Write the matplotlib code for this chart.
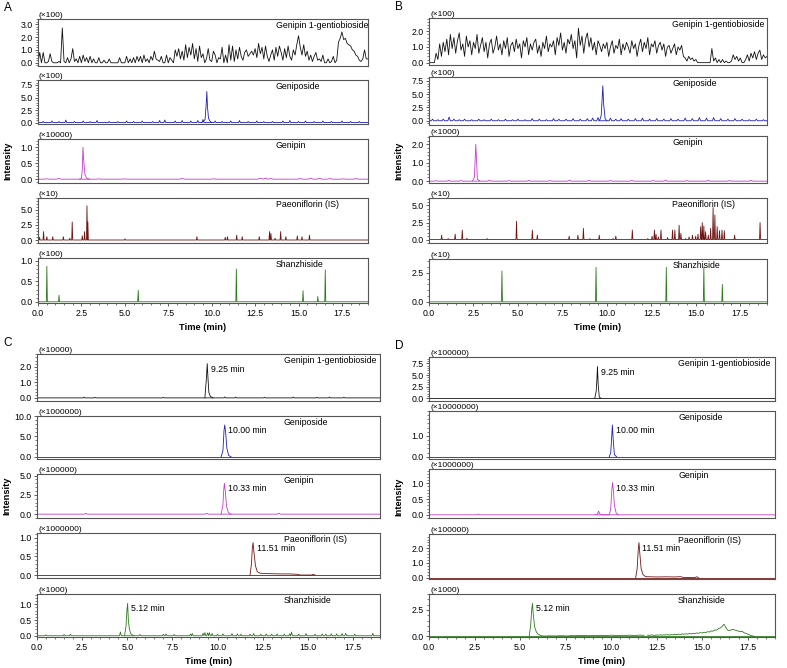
import matplotlib
matplotlib.use('Agg')
import matplotlib.pyplot as plt
import numpy as np
from matplotlib.ticker import AutoMinorLocator, FormatStrFormatter

XMAX = 19.0

# ---------------- data ----------------
# panel A (blank plasma)
a1_step = 0.1
a1_vals = [0.0, 0.8, 0.0, 0.8, 0.0, 0.0, 0.1, 0.7, 0.1, 0.0,
           0.0, 0.0, 0.1, 0.0, 2.7, 0.1, 0.0, 0.4, 0.0, 0.3,
           1.1, 0.1, 0.3, 0.0, 0.5, 0.0, 0.6, 0.1, 0.4, 0.0,
           0.5, 0.0, 0.3, 0.0, 0.0, 0.4, 0.0, 0.0, 0.2, 0.0,
           0.0, 0.3, 0.0, 0.0, 0.0, 0.0, 0.0, 0.4, 0.0, 0.0,
           0.0, 0.5, 0.0, 0.3, 0.0, 0.4, 0.0, 0.5, 0.1, 0.5,
           0.0, 0.6, 0.1, 0.3, 0.0, 0.5, 0.2, 0.9, 0.3, 0.2,
           0.1, 0.5, 0.0, 0.0, 0.6, 0.0, 0.4, 0.2, 0.0, 1.0,
           0.5, 1.1, 0.3, 0.9, 0.2, 1.4, 0.4, 1.2, 0.6, 1.5,
           0.3, 1.1, 0.1, 1.3, 0.4, 0.7, 0.0, 0.3, 1.1, 0.2,
           0.1, 0.9, 0.6, 0.0, 0.4, 0.3, 1.2, 0.0, 0.6, 0.0,
           1.4, 0.2, 1.3, 0.1, 1.0, 0.3, 1.2, 0.5, 0.2, 0.8,
           1.0, 0.5, 0.7, 0.9, 0.6, 1.1, 0.4, 1.5, 0.7, 1.2,
           0.3, 1.3, 0.5, 0.1, 0.6, 1.0, 0.2, 1.2, 0.5, 1.3,
           0.8, 0.2, 1.1, 0.4, 1.3, 0.5, 0.2, 1.0, 0.6, 1.4,
           2.1, 1.2, 0.6, 1.4, 0.5, 0.9, 0.2, 0.6, 0.1, 0.5,
           0.8, 0.2, 0.3, 0.1, 0.6, 0.0, 0.0, 0.3, 0.0, 0.1,
           0.5, 0.0, 0.2, 1.6, 1.9, 2.4, 1.8, 1.9, 1.5, 1.4,
           1.3, 1.0, 0.9, 0.6, 0.5, 0.2, 0.1, 0.3, 1.0, 0.3,
           0.3]

a2_noise_t = [0.3, 0.8, 1.2, 1.6, 2.1, 2.6, 3.0, 3.4, 4.1, 4.6, 5.1, 5.5, 6.0,
              6.6, 7.0, 7.3, 7.9, 8.3, 8.8, 9.2, 9.5, 10.2, 10.6, 11.1, 11.6,
              12.1, 12.6, 13.0, 13.5, 14.1, 14.5, 15.0, 15.4, 15.9, 16.4, 16.9,
              17.5, 18.0, 18.5]
a2_noise_h = [0.2, 0.3, 0.2, 0.5, 0.2, 0.3, 0.2, 0.4, 0.2, 0.2, 0.3, 0.2, 0.3,
              0.2, 0.4, 0.5, 0.3, 0.4, 0.3, 0.4, 0.6, 0.3, 0.2, 0.3, 0.4,
              0.2, 0.3, 0.2, 0.2, 0.3, 0.4, 0.2, 0.3, 0.2, 0.3, 0.2,
              0.3, 0.2, 0.2]
a2_peak_t = [9.4, 9.55, 9.62, 9.68, 9.72, 9.76, 9.82, 9.9, 10.0]
a2_peak_y = [0.0, 0.3, 0.6, 3.5, 6.2, 3.0, 0.8, 0.3, 0.0]

a3_noise_t = [0.5, 1.2, 3.5, 5.0, 8.3, 10.1, 12.8, 13.1, 13.4, 15.1, 15.7,
              16.2, 16.8, 17.6, 18.3]
a3_noise_h = [0.01, 0.02, 0.01, 0.01, 0.02, 0.01, 0.03, 0.03, 0.02, 0.02,
              0.03, 0.03, 0.02, 0.01, 0.02]
a3_peak_t = [2.4, 2.5, 2.55, 2.59, 2.63, 2.7, 2.8, 2.95]
a3_peak_y = [0.0, 0.02, 0.3, 1.0, 0.6, 0.15, 0.03, 0.0]

a4_t = [0.09, 0.32, 0.51, 0.85, 1.46, 1.83, 1.97, 2.55, 2.68, 2.82, 2.87,
        5.01, 9.15, 10.78, 10.91, 11.44, 11.76, 12.74, 13.33, 13.41, 13.65,
        13.97, 14.27, 14.93, 15.2, 15.63]
a4_h = [0.45, 1.4, 0.55, 0.55, 0.55, 0.3, 3.0, 0.7, 1.4, 5.7, 3.0,
        0.2, 0.55, 0.45, 0.55, 0.8, 0.55, 0.55, 1.4, 1.1, 0.3,
        1.4, 0.55, 0.7, 0.55, 0.8]

a5_t = [0.51, 1.21, 5.77, 11.42, 15.26, 16.11, 16.54]
a5_h = [0.87, 0.16, 0.28, 0.8, 0.27, 0.13, 0.78]

# panel B
b1_step = 0.1
b1_vals = [0.0, 0.0, 0.0, 0.0, 0.6, 0.2, 1.2, 0.4, 1.3, 0.7,
           1.5, 0.5, 1.8, 0.9, 1.6, 0.6, 1.4, 1.9, 0.8, 1.2,
           0.4, 1.7, 1.0, 1.4, 0.5, 1.3, 0.9, 1.8, 0.6, 1.1,
           1.6, 0.7, 1.3, 0.3, 1.2, 1.5, 0.6, 1.0, 1.7, 0.8,
           1.2, 0.5, 1.4, 0.9, 1.6, 0.4, 1.1, 1.3, 0.7, 1.5,
           0.9, 1.2, 0.3, 1.4, 1.0, 1.6, 0.5, 1.2, 0.8, 1.3,
           1.5, 0.6, 1.1, 0.4, 1.3, 0.9, 1.7, 0.7, 1.2, 1.0,
           1.4, 0.5, 1.6, 1.1, 1.9, 0.8, 1.3, 0.6, 1.5, 1.2,
           1.8, 0.9, 1.4, 0.3, 2.2, 1.1, 1.7, 0.6, 1.5, 1.9,
           1.0, 1.6, 0.8, 1.3, 0.5, 1.4, 1.1, 0.7, 1.2, 0.9,
           1.3, 0.4, 1.0, 1.4, 0.6, 1.1, 0.9, 1.5, 0.5, 1.2,
           0.8, 1.3, 1.0, 0.6, 1.4, 0.9, 1.2, 0.4, 1.1, 1.5,
           0.7, 1.3, 0.9, 1.6, 0.5, 1.2, 1.0, 1.4, 0.6, 1.1,
           1.3, 0.8, 1.2, 0.4, 1.0, 1.1, 0.6, 0.9, 1.2, 0.5,
           1.0, 0.8, 1.1, 0.4, 0.3, 0.1, 0.4, 0.2, 0.3, 0.1,
           0.2, 0.0, 0.0, 0.0, 0.0, 0.0, 0.0, 0.0, 0.0, 0.9,
           0.1, 0.3, 0.0, 0.2, 0.0, 0.2, 0.0, 0.1, 0.0, 0.0,
           0.1, 0.5, 0.2, 0.4, 0.1, 0.3, 0.0, 0.0, 0.2, 0.5,
           0.1, 0.6, 0.3, 0.7, 0.2, 0.6, 0.8, 0.2, 0.5, 0.3,
           0.4]

b2_noise_t = [0.2, 0.5, 0.8, 1.13, 1.4, 1.7, 2.0, 2.4, 2.8, 3.1, 3.5, 3.9,
              4.3, 4.7, 5.0, 5.4, 5.8, 6.2, 6.6, 7.0, 7.3, 7.7, 8.1, 8.5,
              8.9, 9.2, 9.5, 10.2, 10.5, 10.8, 11.2, 11.6, 12.0, 12.4,
              12.8, 13.2, 13.6, 14.0, 14.4, 14.8, 15.2, 15.6, 16.0, 16.4,
              16.8, 17.2, 17.6, 18.0, 18.4, 18.8]
b2_noise_h = [0.3, 0.2, 0.3, 0.7, 0.3, 0.2, 0.3, 0.2, 0.3, 0.2, 0.3, 0.2,
              0.3, 0.2, 0.3, 0.2, 0.4, 0.3, 0.2, 0.4, 0.3, 0.3, 0.4, 0.3,
              0.4, 0.5, 0.6, 0.5, 0.3, 0.4, 0.3, 0.4, 0.5, 0.3,
              0.4, 0.3, 0.4, 0.3, 0.5, 0.4, 0.6, 0.5, 0.6, 0.4,
              0.3, 0.4, 0.3, 0.2, 0.3, 0.2]
b2_peak_t = [9.55, 9.62, 9.68, 9.73, 9.77, 9.82, 9.9, 10.0]
b2_peak_y = [0.0, 0.3, 1.0, 4.0, 6.6, 3.0, 0.4, 0.0]

b3_noise_t = [0.4, 1.1, 1.8, 3.4, 4.5, 5.6, 6.8, 7.9, 9.0, 10.2, 11.4, 12.6,
              13.3, 14.5, 15.7, 16.9, 18.1]
b3_noise_h = [0.03, 0.04, 0.03, 0.05, 0.03, 0.04, 0.03, 0.05, 0.04, 0.03,
              0.04, 0.03, 0.05, 0.03, 0.04, 0.03, 0.04]
b3_peak_t = [2.45, 2.55, 2.6, 2.63, 2.67, 2.72, 2.85]
b3_peak_y = [0.02, 0.2, 1.3, 2.0, 1.2, 0.1, 0.02]

b4_t = [0.02, 0.71, 1.08, 1.47, 1.87, 2.13, 3.27, 4.92, 5.81, 6.09, 7.88,
        8.37, 8.68, 9.04, 9.57, 10.35, 10.5, 11.43, 12.3, 12.54, 12.67,
        12.76, 12.89, 13.04, 13.41, 13.69, 13.82, 14.06, 14.16, 14.43,
        14.62, 14.81, 14.99, 15.12, 15.27, 15.36, 15.45, 15.55, 15.7,
        15.83, 15.97, 16.07, 16.2, 16.33, 16.47, 16.6, 17.18, 18.61]
b4_h = [0.15, 0.65, 0.15, 0.8, 1.4, 0.2, 0.15, 2.7, 1.4, 0.65, 0.5,
        0.65, 1.65, 0.15, 0.65, 0.15, 0.5, 1.4, 0.15, 0.5, 1.4,
        0.8, 0.4, 1.4, 0.3, 1.4, 1.4, 2.1, 0.9, 0.15,
        0.4, 0.65, 0.5, 0.8, 1.9, 2.5, 2.0, 1.15, 0.65,
        1.65, 4.7, 3.6, 1.9, 1.3, 1.4, 1.3, 0.65, 2.5]

b5_t = [4.1, 9.39, 13.34, 15.45, 16.49]
b5_h = [2.65, 2.96, 2.96, 2.96, 1.5]

# panel C
c1_noise_t = [2.6, 3.2, 7.0, 10.4, 11.0, 12.6, 14.2, 15.5, 16.2, 17.0]
c1_noise_h = [0.05, 0.04, 0.04, 0.06, 0.05, 0.04, 0.05, 0.04, 0.05, 0.04]
c1_peak_t = [9.3, 9.38, 9.43, 9.47, 9.52, 9.6, 9.75]
c1_peak_y = [0.0, 1.2, 2.2, 1.3, 0.35, 0.1, 0.0]

c2_peak_t = [10.2, 10.3, 10.36, 10.4, 10.45, 10.52, 10.62, 10.75]
c2_peak_y = [0.0, 1.5, 6.5, 7.8, 6.0, 2.0, 0.3, 0.0]

c3_noise_t = [2.7, 9.4, 13.4]
c3_noise_h = [0.1, 0.12, 0.12]
c3_peak_t = [10.2, 10.3, 10.34, 10.38, 10.43, 10.5, 10.6, 10.75]
c3_peak_y = [0.0, 1.2, 3.0, 4.0, 3.0, 1.0, 0.2, 0.0]

c4_peak_t = [11.8, 11.88, 11.93, 11.97, 12.02, 12.1, 12.2, 12.35, 12.6, 13.0,
             13.5, 14.0, 14.4, 14.6, 15.2, 15.3, 15.4]
c4_peak_y = [0.0, 0.3, 0.75, 0.87, 0.6, 0.25, 0.09, 0.05, 0.04, 0.035,
             0.03, 0.03, 0.02, 0.0, 0.0, 0.02, 0.0]

c5_noise_t = [0.5, 1.5, 1.85, 4.62, 5.7, 7.0, 7.15, 7.6, 8.5, 8.6,
              9.2, 9.3, 9.45, 9.55, 9.7, 10.0, 10.3, 10.8, 11.1, 11.3,
              11.8, 12.0, 12.4, 12.7, 13.0, 13.3, 13.7, 14.0, 14.1, 14.5,
              14.9, 15.4, 15.8, 16.0, 16.3, 16.6, 16.9, 17.1, 17.6, 18.6]
c5_noise_h = [0.03, 0.04, 0.05, 0.12, 0.04, 0.05, 0.06, 0.04, 0.05, 0.07,
              0.08, 0.1, 0.09, 0.1, 0.07, 0.05, 0.06, 0.07, 0.06, 0.05,
              0.05, 0.07, 0.05, 0.06, 0.05, 0.06, 0.05, 0.06, 0.12, 0.05,
              0.07, 0.05, 0.06, 0.05, 0.06, 0.06, 0.07, 0.08, 0.05, 0.08]
c5_peak_t = [4.85, 4.93, 4.98, 5.02, 5.06, 5.12, 5.2, 5.35]
c5_peak_y = [0.0, 0.3, 0.8, 1.03, 0.5, 0.2, 0.06, 0.0]

# panel D
d1_peak_t = [9.1, 9.18, 9.22, 9.25, 9.29, 9.35, 9.45]
d1_peak_y = [0.0, 1.5, 4.0, 6.8, 3.0, 0.3, 0.0]

d2_peak_t = [9.9, 9.98, 10.03, 10.07, 10.11, 10.18, 10.3]
d2_peak_y = [0.0, 0.2, 0.9, 1.53, 0.9, 0.1, 0.0]

d3_noise_t = [2.7]
d3_noise_h = [0.02]
d3_peak_t = [9.15, 9.25, 9.31, 9.38, 9.5, 9.9, 9.98, 10.04, 10.08, 10.12,
             10.18, 10.28, 10.4]
d3_peak_y = [0.0, 0.03, 0.12, 0.03, 0.0, 0.0, 0.2, 0.8, 1.02, 0.8,
             0.3, 0.05, 0.0]

d4_peak_t = [11.35, 11.43, 11.49, 11.53, 11.58, 11.65, 11.75, 11.9, 12.5,
             13.0, 13.5, 13.8, 14.0, 14.6, 14.7, 14.8]
d4_peak_y = [0.0, 0.6, 1.9, 2.39, 1.6, 0.6, 0.2, 0.06, 0.04,
             0.05, 0.04, 0.06, 0.0, 0.0, 0.05, 0.0]

d5_peak_t = [5.5, 5.58, 5.64, 5.68, 5.72, 5.8, 5.9, 6.0, 6.2]
d5_peak_y = [0.0, 1.0, 2.5, 3.12, 2.2, 0.9, 0.4, 0.2, 0.05]
d5_base_start, d5_base_step = 6.2, 0.2
d5_base_vals = [0.05, 0.04, 0.06, 0.05, 0.05, 0.07, 0.06, 0.05, 0.08, 0.07,
                0.1, 0.08, 0.09, 0.07, 0.1, 0.08, 0.11, 0.09, 0.1, 0.12,
                0.1, 0.09, 0.11, 0.1, 0.12, 0.1, 0.11, 0.13, 0.1]
d5_hump_start, d5_hump_step = 12.0, 0.1
d5_hump_vals = [0.12, 0.1, 0.15, 0.12, 0.1, 0.14, 0.12, 0.16, 0.13, 0.15,
                0.14, 0.17, 0.13, 0.18, 0.15, 0.2, 0.17, 0.22, 0.19, 0.24,
                0.21, 0.25, 0.22, 0.28, 0.24, 0.3, 0.27, 0.33, 0.3, 0.36,
                0.33, 0.4, 0.37, 0.45, 0.42, 0.52, 0.5, 0.62, 0.6, 0.75,
                0.8, 0.95, 1.15, 0.85, 0.6, 0.55, 0.62, 0.68, 0.6, 0.55,
                0.5, 0.45, 0.48, 0.35, 0.3, 0.22, 0.15, 0.08, 0.04, 0.0]

names = ['Genipin 1-gentiobioside', 'Geniposide', 'Genipin',
         'Paeoniflorin (IS)', 'Shanzhiside']
colors = ['#111111', '#1f1fb0', '#c23ccc', '#6e1616', '#2e7a1e']

scales = {'A': ['(×100)', '(×100)', '(×10000)', '(×10)', '(×100)'],
          'B': ['(×100)', '(×100)', '(×1000)', '(×10)', '(×10)'],
          'C': ['(×10000)', '(×1000000)', '(×100000)', '(×1000000)', '(×1000)'],
          'D': ['(×100000)', '(×10000000)', '(×1000000)', '(×100000)', '(×1000)']}

yticks = {'A': [[0, 1, 2, 3], [0, 2.5, 5, 7.5], [0, 0.5, 1.0], [0, 2.5, 5], [0, 0.5, 1.0]],
          'B': [[0, 1, 2], [0, 2.5, 5, 7.5], [0, 1, 2], [0, 2.5, 5], [0, 2.5]],
          'C': [[0, 1, 2], [0, 5, 10], [0, 2.5, 5], [0, 0.5, 1.0], [0, 0.5, 1.0]],
          'D': [[0, 2.5, 5, 7.5], [0, 1.0], [0, 0.5, 1.0], [0, 1, 2], [0, 2.5]]}

ylims = {'A': [(-0.25, 3.4), (-0.3, 8.5), (-0.12, 1.26), (-0.5, 7.0), (-0.03, 1.07)],
         'B': [(-0.15, 2.85), (-0.8, 8.25), (-0.1, 2.45), (-0.5, 6.1), (-0.1, 3.68)],
         'C': [(-0.2, 2.82), (-0.55, 10.0), (-0.5, 5.2), (-0.08, 1.13), (-0.04, 1.33)],
         'D': [(-0.55, 8.85), (-0.11, 2.2), (-0.1, 1.45), (-0.1, 2.98), (-0.05, 4.0)]}

peak_labels = {'C': ['9.25 min', '10.00 min', '10.33 min', '11.51 min', '5.12 min'],
               'D': ['9.25 min', '10.00 min', '10.33 min', '11.51 min', '5.12 min']}

# ---------------- layout (pixels of the 787x668 picture) ----------------
W, H = 787, 668
layout = {
    'A': dict(left=38, right=368, rows=[(19, 66), (80, 124), (139, 183), (198, 243), (258, 303)]),
    'B': dict(left=429, right=767, rows=[(18, 65), (77, 125), (136, 183), (198, 243), (259, 303)]),
    'C': dict(left=37, right=380, rows=[(354, 401), (416, 459), (474, 518), (533, 578), (594, 637)]),
    'D': dict(left=429, right=775, rows=[(357, 401), (411, 459), (469, 518), (534, 579), (594, 637)]),
}
FS = 6.3


def spikes(t, h, w=0.03):
    xs, ys = [0.0], [0.0]
    for ti, hi in sorted(zip(t, h)):
        xs += [ti - w, ti, ti + w]
        ys += [0.0, hi, 0.0]
    xs.append(XMAX)
    ys.append(0.0)
    return xs, ys


def sampled(start, step, vals):
    return start + step * np.arange(len(vals)), vals


def flat():
    return [0.0, XMAX], [0.0, 0.0]


traces = {
    'A': [[sampled(0.0, a1_step, a1_vals)],
          [spikes(a2_noise_t, a2_noise_h, 0.05), (a2_peak_t, a2_peak_y)],
          [spikes(a3_noise_t, a3_noise_h, 0.15), (a3_peak_t, a3_peak_y)],
          [spikes(a4_t, a4_h)],
          [spikes(a5_t, a5_h)]],
    'B': [[sampled(0.0, b1_step, b1_vals)],
          [spikes(b2_noise_t, b2_noise_h, 0.07), (b2_peak_t, b2_peak_y)],
          [spikes(b3_noise_t, b3_noise_h, 0.1), (b3_peak_t, b3_peak_y)],
          [spikes(b4_t, b4_h)],
          [spikes(b5_t, b5_h)]],
    'C': [[spikes(c1_noise_t, c1_noise_h, 0.05), (c1_peak_t, c1_peak_y)],
          [flat(), (c2_peak_t, c2_peak_y)],
          [spikes(c3_noise_t, c3_noise_h, 0.08), (c3_peak_t, c3_peak_y)],
          [flat(), (c4_peak_t, c4_peak_y)],
          [spikes(c5_noise_t, c5_noise_h, 0.05), (c5_peak_t, c5_peak_y)]],
    'D': [[flat(), (d1_peak_t, d1_peak_y)],
          [flat(), (d2_peak_t, d2_peak_y)],
          [spikes(d3_noise_t, d3_noise_h, 0.08), (d3_peak_t, d3_peak_y)],
          [flat(), (d4_peak_t, d4_peak_y)],
          [flat(), (d5_peak_t, d5_peak_y),
           sampled(d5_base_start, d5_base_step, d5_base_vals),
           sampled(d5_hump_start, d5_hump_step, d5_hump_vals)]],
}

plt.rcParams['font.family'] = ['Liberation Sans', 'DejaVu Sans']
fig = plt.figure(figsize=(W / 100, H / 100), dpi=100)

for key, lay in layout.items():
    l, r = lay['left'], lay['right']
    for i, (top, bot) in enumerate(lay['rows']):
        ax = fig.add_axes([l / W, 1 - bot / H, (r - l) / W, (bot - top) / H])
        for xs, ys in traces[key][i]:
            ax.plot(xs, ys, color=colors[i], lw=0.6)
        ax.set_xlim(0, XMAX)
        ax.set_ylim(*ylims[key][i])
        ax.set_yticks(yticks[key][i])
        ax.yaxis.set_major_formatter(FormatStrFormatter('%.1f'))
        ax.yaxis.set_minor_locator(AutoMinorLocator(5))
        for s in ax.spines.values():
            s.set_color('#555555')
            s.set_linewidth(0.8)
        ax.tick_params(axis='both', which='major', labelsize=FS, length=2.5,
                       width=0.6, color='#444444', pad=1.5)
        ax.tick_params(axis='both', which='minor', length=1.3, width=0.5,
                       color='#444444')
        if i < 4:
            ax.tick_params(axis='x', which='both', bottom=False, labelbottom=False)
        else:
            ax.set_xticks(np.arange(0, 17.6, 2.5))
            ax.xaxis.set_major_formatter(FormatStrFormatter('%.1f'))
            ax.xaxis.set_minor_locator(AutoMinorLocator(5))
        ax.text(0.72, 0.95, names[i], transform=ax.transAxes, ha='left',
                va='top', fontsize=FS)
        ax.text(0.003, 1.01, scales[key][i], transform=ax.transAxes,
                ha='left', va='bottom', fontsize=FS - 0.3)
        if key in peak_labels:
            pt, py = traces[key][i][1]
            j = int(np.argmax(py))
            ax.annotate(peak_labels[key][i], xy=(pt[j], py[j]),
                        xytext=(2.5, -4), textcoords='offset points',
                        ha='left', va='center', fontsize=FS)

    xc = (l + r) / 2
    ybot = lay['rows'][-1][1]
    fig.text(xc / W, 1 - (ybot + 25) / H, 'Time (min)', ha='center',
             va='center', fontsize=FS + 0.4, fontweight='bold')
    ymid = (lay['rows'][0][0] + ybot) / 2
    fig.text((l - 30) / W, 1 - ymid / H, 'Intensity', rotation=90,
             ha='center', va='center', fontsize=FS + 0.4, fontweight='bold')
    fig.text((l - 34) / W, 1 - (lay['rows'][0][0] - 11) / H, key,
             ha='left', va='center', fontsize=8.5)

fig.savefig('out.png', dpi=100)
